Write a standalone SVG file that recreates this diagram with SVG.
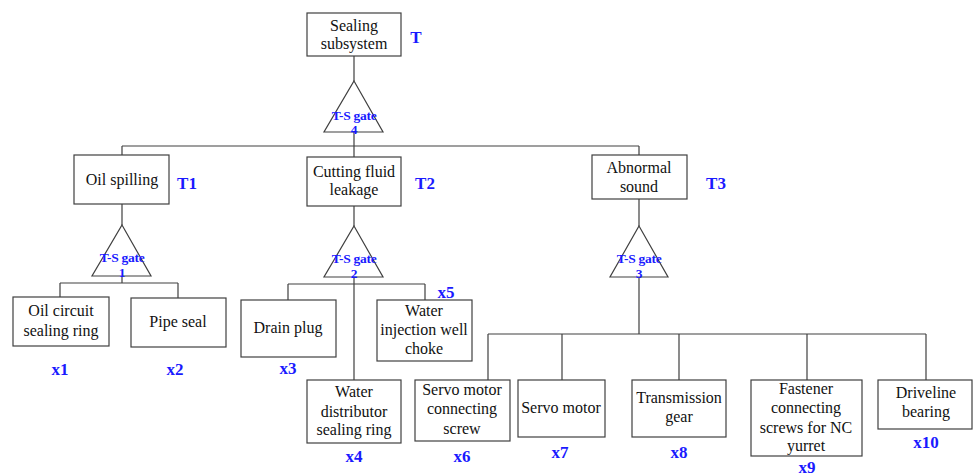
<svg xmlns="http://www.w3.org/2000/svg" width="973" height="476" viewBox="0 0 973 476" font-family="Liberation Serif">
<style>
.box{fill:#fff;stroke:#404040;stroke-width:1.2}
.ln{fill:none;stroke:#404040;stroke-width:1.2}
.t{font-size:16px;fill:#111;text-anchor:middle}
.lb{font-size:17px;font-weight:bold;fill:#1a1aff;text-anchor:middle}
.g{font-size:13.5px;font-weight:bold;fill:#1a1aff;text-anchor:middle;letter-spacing:-0.3px}
.gate{fill:#fff;stroke:#404040;stroke-width:1.2}
</style>
<rect width="973" height="476" fill="#fff"/>
<g id="connectors">
<path class="ln" d="M354 56V81M354 132V146M122 146H639M122 146V155M354 146V157M639 146V155"/>
<path class="ln" d="M122 204V225M122 276V283M60 283H178M60 283V297M178 283V298"/>
<path class="ln" d="M354 206V226M288 284H425M288 284V300M425 284V300M354 277V380"/>
<path class="ln" d="M639 199V226M639 277V334M488 334H926M488 334V380M562 334V380M679 334V380M807 334V380M926 334V380"/>
</g>
<g id="T" font-family="Liberation Serif">
<rect class="box" x="307" y="13" width="94" height="43"/>
<text class="t" x="354" y="31">Sealing</text>
<text class="t" x="354" y="49">subsystem</text>
<text class="lb" x="416" y="43">T</text>
</g>
<g id="gate4" font-family="Liberation Serif">
<polygon class="gate" points="354,81 383,132 324,132"/>
<text class="g" x="354" y="120">T-S gate</text>
<text class="g" x="354" y="134">4</text>
</g>
<g id="T1" font-family="Liberation Serif">
<rect class="box" x="74" y="155" width="95" height="49"/>
<text class="t" x="122" y="185">Oil spilling</text>
<text class="lb" x="187" y="189">T1</text>
</g>
<g id="gate1" font-family="Liberation Serif">
<polygon class="gate" points="122,225 151,276 92,276"/>
<text class="g" x="122" y="262">T-S gate</text>
<text class="g" x="122" y="277">1</text>
</g>
<g id="T2" font-family="Liberation Serif">
<rect class="box" x="307" y="157" width="94" height="49"/>
<text class="t" x="354" y="177">Cutting fluid</text>
<text class="t" x="354" y="195">leakage</text>
<text class="lb" x="425" y="189">T2</text>
</g>
<g id="gate2" font-family="Liberation Serif">
<polygon class="gate" points="354,226 383,277 324,277"/>
<text class="g" x="354" y="263">T-S gate</text>
<text class="g" x="354" y="278">2</text>
</g>
<g id="T3" font-family="Liberation Serif">
<rect class="box" x="592" y="155" width="95" height="44"/>
<text class="t" x="639" y="173">Abnormal</text>
<text class="t" x="639" y="192">sound</text>
<text class="lb" x="716" y="189">T3</text>
</g>
<g id="gate3" font-family="Liberation Serif">
<polygon class="gate" points="639,226 668,277 610,277"/>
<text class="g" x="639" y="263">T-S gate</text>
<text class="g" x="639" y="278">3</text>
</g>
<g id="x1" font-family="Liberation Serif">
<rect class="box" x="13" y="297" width="96" height="49"/>
<text class="t" x="61" y="316">Oil circuit</text>
<text class="t" x="61" y="336">sealing ring</text>
<text class="lb" x="60" y="375">x1</text>
</g>
<g id="x2" font-family="Liberation Serif">
<rect class="box" x="131" y="298" width="95" height="49"/>
<text class="t" x="178" y="327">Pipe seal</text>
<text class="lb" x="175" y="375">x2</text>
</g>
<g id="x3" font-family="Liberation Serif">
<rect class="box" x="241" y="300" width="95" height="57"/>
<text class="t" x="288" y="333">Drain plug</text>
<text class="lb" x="288" y="374">x3</text>
</g>
<g id="x5" font-family="Liberation Serif">
<rect class="box" x="377" y="300" width="95" height="61"/>
<text class="t" x="424" y="316">Water</text>
<text class="t" x="424" y="335">injection well</text>
<text class="t" x="424" y="354">choke</text>
<text class="lb" x="446" y="298">x5</text>
</g>
<g id="x4" font-family="Liberation Serif">
<rect class="box" x="307" y="380" width="94" height="63"/>
<text class="t" x="354" y="397">Water</text>
<text class="t" x="354" y="417">distributor</text>
<text class="t" x="354" y="435">sealing ring</text>
<text class="lb" x="354" y="462">x4</text>
</g>
<g id="x6" font-family="Liberation Serif">
<rect class="box" x="415" y="380" width="95" height="61"/>
<text class="t" x="462" y="395">Servo motor</text>
<text class="t" x="462" y="414">connecting</text>
<text class="t" x="462" y="434">screw</text>
<text class="lb" x="462" y="462">x6</text>
</g>
<g id="x7" font-family="Liberation Serif">
<rect class="box" x="518" y="380" width="87" height="57"/>
<text class="t" x="561" y="413">Servo motor</text>
<text class="lb" x="560" y="458">x7</text>
</g>
<g id="x8" font-family="Liberation Serif">
<rect class="box" x="632" y="380" width="94" height="57"/>
<text class="t" x="679" y="403">Transmission</text>
<text class="t" x="679" y="422">gear</text>
<text class="lb" x="679" y="458">x8</text>
</g>
<g id="x9" font-family="Liberation Serif">
<rect class="box" x="751" y="380" width="111" height="76"/>
<text class="t" x="806" y="394">Fastener</text>
<text class="t" x="806" y="413">connecting</text>
<text class="t" x="806" y="433">screws for NC</text>
<text class="t" x="806" y="451">yurret</text>
<text class="lb" x="807" y="473">x9</text>
</g>
<g id="x10" font-family="Liberation Serif">
<rect class="box" x="878" y="380" width="94" height="49"/>
<text class="t" x="926" y="398">Driveline</text>
<text class="t" x="926" y="417">bearing</text>
<text class="lb" x="926" y="448">x10</text>
</g>
</svg>
